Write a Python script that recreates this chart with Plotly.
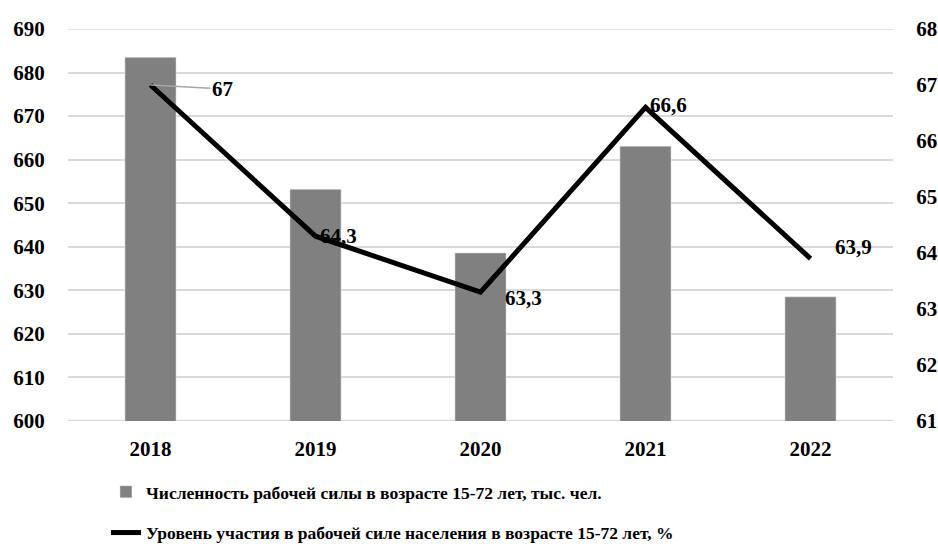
import plotly.graph_objects as go

years = ["2018", "2019", "2020", "2021", "2022"]
labor_force = [683.5, 653.2, 638.6, 663.1, 628.5]
participation = [67.0, 64.3, 63.3, 66.6, 63.9]
participation_labels = ["67", "64,3", "63,3", "66,6", "63,9"]

bar_name = "Численность рабочей силы в возрасте 15-72 лет, тыс. чел."
line_name = "Уровень участия в рабочей силе населения в возрасте 15-72 лет, %"

FONT = "Liberation Serif"
fig = go.Figure()
fig.add_trace(go.Bar(x=years, y=labor_force, name="<b>" + bar_name + "</b>",
                     marker_color="#808080", yaxis="y", legendgroup="a"))
fig.add_trace(go.Scatter(x=years, y=participation, name="<b>" + line_name + "</b>", mode="lines",
                         line=dict(color="#000000", width=5), yaxis="y2", legendgroup="b"))

# label offsets (pixels) relative to points
offsets = [(None, None), (2, 0), (22, -6), (2, 2), (22, 12)]
for i, (v, lab) in enumerate(zip(participation, participation_labels)):
    if i == 0:
        fig.add_annotation(x=i, y=v, xref="x", yref="y2", text="<b>" + lab + "</b>",
                           showarrow=True, arrowhead=0, arrowwidth=1.5, arrowcolor="#a6a6a6",
                           ax=72, ay=4, standoff=0, xanchor="center",
                           font=dict(family=FONT, size=21, color="#000000"))
    else:
        dx, dy = offsets[i]
        fig.add_annotation(x=i, y=v, xref="x", yref="y2", text="<b>" + lab + "</b>",
                           showarrow=False, xanchor="left", yanchor="middle",
                           xshift=dx, yshift=dy,
                           font=dict(family=FONT, size=21, color="#000000"))

tickfont = dict(family=FONT, size=21, color="#000000")
fig.update_layout(
    width=938, height=554,
    margin=dict(l=68, r=45, t=29, b=133, autoexpand=False),
    paper_bgcolor="white", plot_bgcolor="white",
    bargap=0.69,
    xaxis=dict(type="category", range=[-0.5, 4.5], tickfont=tickfont, showgrid=False,
               showline=False, ticks="outside", ticklen=9, tickcolor="rgba(0,0,0,0)",
               tickvals=years, ticktext=["<b>" + y + "</b>" for y in years]),
    yaxis=dict(range=[600, 690], dtick=10, tickfont=tickfont, showgrid=True,
               gridcolor="#d9d9d9", gridwidth=1.5, zeroline=False, showline=False,
               ticks="outside", ticklen=18, tickcolor="rgba(0,0,0,0)",
               tickprefix="<b>", ticksuffix="</b>"),
    yaxis2=dict(range=[61, 68], dtick=1, tickfont=tickfont, overlaying="y", side="right",
                showgrid=False, zeroline=False, showline=False,
                ticks="outside", ticklen=18, tickcolor="rgba(0,0,0,0)",
                tickprefix="<b>", ticksuffix="</b>"),
    legend=dict(x=0.046, y=-0.135, xref="paper", yref="paper", xanchor="left", yanchor="top",
                orientation="v", tracegroupgap=15,
                font=dict(family=FONT, size=17.5, color="#000000"),
                bgcolor="rgba(0,0,0,0)"),
)
fig.add_shape(type="line", xref="paper", yref="y", x0=0, x1=1, y0=600, y1=600,
              line=dict(color="#d9d9d9", width=2.5), layer="below")
fig.add_shape(type="line", xref="paper", yref="y", x0=0, x1=1, y0=690, y1=690,
              line=dict(color="#d9d9d9", width=1.5), layer="below")

fig.write_html("out.html", config={"displayModeBar": False},
               post_script="document.body.style.margin='0';document.body.style.overflow='hidden';")
